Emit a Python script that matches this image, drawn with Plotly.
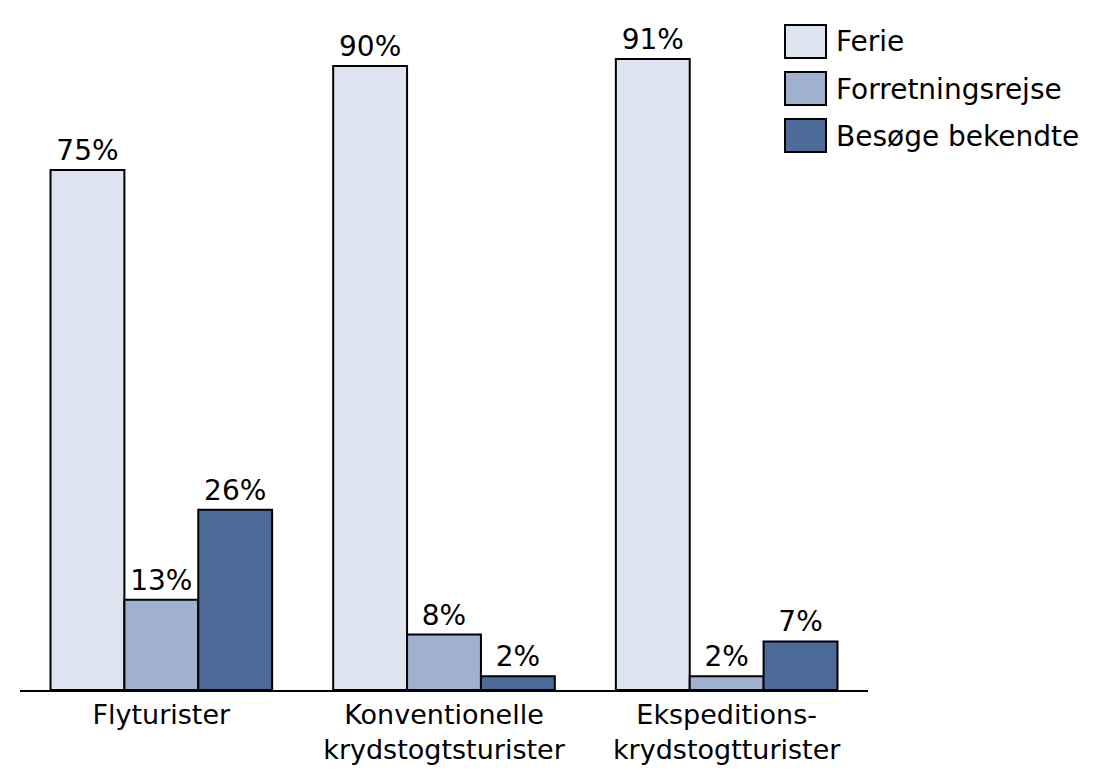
import plotly.graph_objects as go

categories = ["Flyturister", "Konventionelle<br>krydstogtsturister", "Ekspeditions-<br>krydstogtturister"]
series_names = ["Ferie", "Forretningsrejse", "Besøge bekendte"]
ferie = [75, 90, 91]
forretning = [13, 8, 2]
besoge = [26, 2, 7]
colors = ["#dde4ef", "#9fb1cf", "#4c6b98"]

FONT = "DejaVu Sans"
FS = 28
OFF = 8  # page body margin
W, H = 1099 - OFF, 770 - OFF
ML, MR, MT, MB = 20 - OFF, 231, 0, 80
PW, PH = W - ML - MR, H - MT - MB

fig = go.Figure()
for name, vals, col in zip(series_names, [ferie, forretning, besoge], colors):
    fig.add_trace(go.Bar(
        x=categories, y=vals, name=name,
        marker=dict(color=col, line=dict(color="black", width=2)),
        text=[f"{v}%" for v in vals], texttemplate="%{text}",
        textposition="outside", textfont=dict(size=FS, color="black", family=FONT),
        cliponaxis=False,
    ))

# custom legend with large swatches, positions given in page pixels
def px_x(p):
    return (p - OFF - ML) / PW

def px_y(p):
    return (H - MB - (p - OFF)) / PH

for i, (name, col) in enumerate(zip(series_names, colors)):
    top = 25 + i * 47
    fig.add_shape(type="rect", xref="paper", yref="paper",
                  x0=px_x(785), x1=px_x(826), y0=px_y(top + 33), y1=px_y(top),
                  fillcolor=col, line=dict(color="black", width=2))
    fig.add_annotation(xref="paper", yref="paper", x=px_x(834), y=px_y(top + 17),
                       text=name, showarrow=False, xanchor="left", yanchor="middle",
                       font=dict(size=FS, color="black", family=FONT))

fig.update_layout(
    width=W, height=H,
    margin=dict(l=ML, r=MR, t=MT, b=MB),
    barmode="group", bargap=0.216, bargroupgap=0,
    showlegend=False,
    plot_bgcolor="white", paper_bgcolor="white",
    font=dict(family=FONT, size=FS, color="black"),
    xaxis=dict(showline=True, linecolor="black", linewidth=1.5, ticks="",
               tickfont=dict(size=27), showgrid=False, ticklabelstandoff=0,
               automargin=False),
    yaxis=dict(range=[0, PH / 6.933], visible=False, showgrid=False),
)

fig.write_html("out.html")
